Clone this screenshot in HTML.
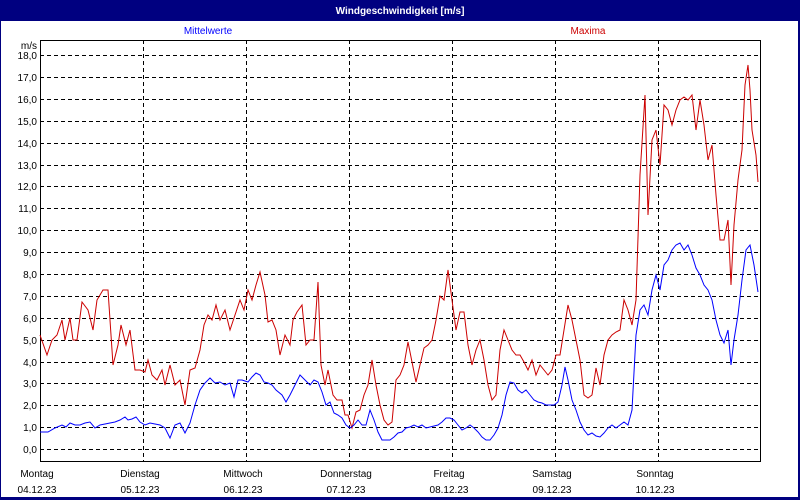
<!DOCTYPE html><html><head><meta charset="utf-8"><style>body{margin:0;background:#fff}svg{display:block}text{font-family:"Liberation Sans",sans-serif;font-size:10px}</style></head><body>
<svg width="800" height="500" xmlns="http://www.w3.org/2000/svg">
<rect width="800" height="500" fill="#000080"/>
<rect x="1" y="21" width="797" height="476" fill="#fff"/>
<text x="400" y="14" fill="#fff" text-anchor="middle" font-weight="bold">Windgeschwindigkeit [m/s]</text>
<text x="208" y="34" fill="#0000ff" text-anchor="middle">Mittelwerte</text>
<text x="588" y="34" fill="#cc0000" text-anchor="middle">Maxima</text>
<g stroke="#000" stroke-dasharray="4,3" stroke-width="1">
<path d="M40 55.5H760M40 77.5H760M40 99.5H760M40 121.5H760M40 143.5H760M40 165.5H760M40 186.5H760M40 208.5H760M40 230.5H760M40 252.5H760M40 274.5H760M40 296.5H760M40 318.5H760M40 340.5H760M40 362.5H760M40 383.5H760M40 405.5H760M40 427.5H760M40 449.5H760"/>
<path d="M143.5 40V461M246.5 40V461M349.5 40V461M452.5 40V461M555.5 40V461M658.5 40V461"/>
</g>
<rect x="40.5" y="40.5" width="720" height="421" fill="none" stroke="#000"/>
<g text-anchor="end" fill="#000">
<text x="37" y="49">m/s</text>
<text x="37" y="59">18,0</text><text x="37" y="81">17,0</text><text x="37" y="103">16,0</text><text x="37" y="125">15,0</text><text x="37" y="147">14,0</text><text x="37" y="169">13,0</text><text x="37" y="190">12,0</text><text x="37" y="212">11,0</text><text x="37" y="234">10,0</text><text x="37" y="256">9,0</text><text x="37" y="278">8,0</text><text x="37" y="300">7,0</text><text x="37" y="322">6,0</text><text x="37" y="344">5,0</text><text x="37" y="366">4,0</text><text x="37" y="387">3,0</text><text x="37" y="409">2,0</text><text x="37" y="431">1,0</text><text x="37" y="453">0,0</text>
</g>
<g text-anchor="middle" fill="#000">
<text x="37" y="477">Montag</text><text x="37" y="493">04.12.23</text>
<text x="140" y="477">Dienstag</text><text x="140" y="493">05.12.23</text>
<text x="243" y="477">Mittwoch</text><text x="243" y="493">06.12.23</text>
<text x="346" y="477">Donnerstag</text><text x="346" y="493">07.12.23</text>
<text x="449" y="477">Freitag</text><text x="449" y="493">08.12.23</text>
<text x="552" y="477">Samstag</text><text x="552" y="493">09.12.23</text>
<text x="655" y="477">Sonntag</text><text x="655" y="493">10.12.23</text>
</g>
<polyline fill="none" stroke="#cc0000" stroke-width="1" points="40,335 47,355 52,340 57,335 62,320 65,340 70,318 73,340 77,340 82,302 88,310 93,330 97,300 103,290 108,290 110,320 113,365 118,345 121,325 126,345 130,330 135,370 140,370 145,372 148,360 152,375 157,380 162,370 165,385 170,365 175,385 180,380 185,405 190,370 195,368 200,350 204,325 208,315 212,320 216,305 220,320 225,310 230,330 235,315 240,300 244,310 248,290 252,300 256,285 260,272 265,295 268,322 272,320 276,330 280,355 285,335 290,345 293,320 297,312 302,305 306,345 310,340 314,340 318,282 321,365 325,385 328,370 333,395 337,400 342,400 345,415 348,415 352,428 356,412 360,410 364,395 368,385 372,360 376,385 380,405 384,420 388,425 392,422 396,380 400,375 404,365 408,342 412,362 416,382 420,365 424,348 428,345 432,340 436,320 440,296 444,300 448,270 452,300 456,330 460,312 464,312 468,345 472,365 476,350 480,340 484,360 488,385 492,400 496,395 500,350 504,330 508,340 512,350 516,355 520,355 524,362 528,370 532,360 536,375 540,365 544,370 548,375 552,370 556,355 560,355 564,330 568,305 572,320 576,340 580,360 584,395 588,398 592,395 596,368 600,385 604,355 608,340 612,335 616,332 620,330 624,300 628,310 632,325 636,300 640,175 645,95 648,215 652,140 656,130 660,165 664,105 668,110 672,125 676,110 680,100 684,97 688,100 692,95 696,130 700,100 704,125 708,160 712,145 716,195 720,240 724,240 728,220 731,285 734,225 738,180 742,150 745,85 748,65 750,90 752,130 756,155 758,182"/>
<polyline fill="none" stroke="#0000ff" stroke-width="1" points="40,432 48,432 55,428 62,425 66,427 70,423 75,425 80,425 85,423 90,422 95,428 100,425 105,424 110,423 115,422 120,420 125,417 128,420 132,419 136,417 140,422 145,425 150,423 155,424 160,425 165,428 170,438 175,425 180,423 185,433 190,423 195,405 200,390 205,383 210,378 215,383 220,382 225,385 230,383 234,397 238,380 242,380 248,382 252,377 256,373 260,375 264,382 268,383 272,385 276,390 282,395 286,402 290,395 295,385 300,375 305,380 310,385 314,380 318,382 322,392 326,405 330,402 334,413 338,415 342,418 346,425 350,428 354,425 358,420 362,425 366,425 370,410 374,420 378,432 382,440 386,440 390,440 394,437 398,433 402,432 406,428 410,427 414,425 418,427 422,425 426,428 430,427 434,426 438,425 442,422 446,418 450,418 454,420 458,425 462,430 466,428 470,425 474,428 478,432 482,437 486,440 490,440 494,435 498,428 502,415 506,395 510,382 514,383 518,390 522,393 526,390 530,395 534,400 538,402 542,403 546,405 550,405 554,405 558,402 562,385 565,367 568,380 572,400 576,410 580,422 584,430 588,435 592,433 596,436 600,437 604,433 608,428 612,425 616,428 620,425 624,422 628,425 632,410 636,335 640,310 644,305 648,315 652,290 656,275 660,290 664,265 668,260 672,250 676,245 680,243 684,250 688,245 692,255 696,268 700,275 704,285 708,290 712,300 716,320 720,335 724,343 728,330 731,365 734,340 738,315 742,280 746,250 750,245 754,265 758,292"/>
</svg>
</body></html>
